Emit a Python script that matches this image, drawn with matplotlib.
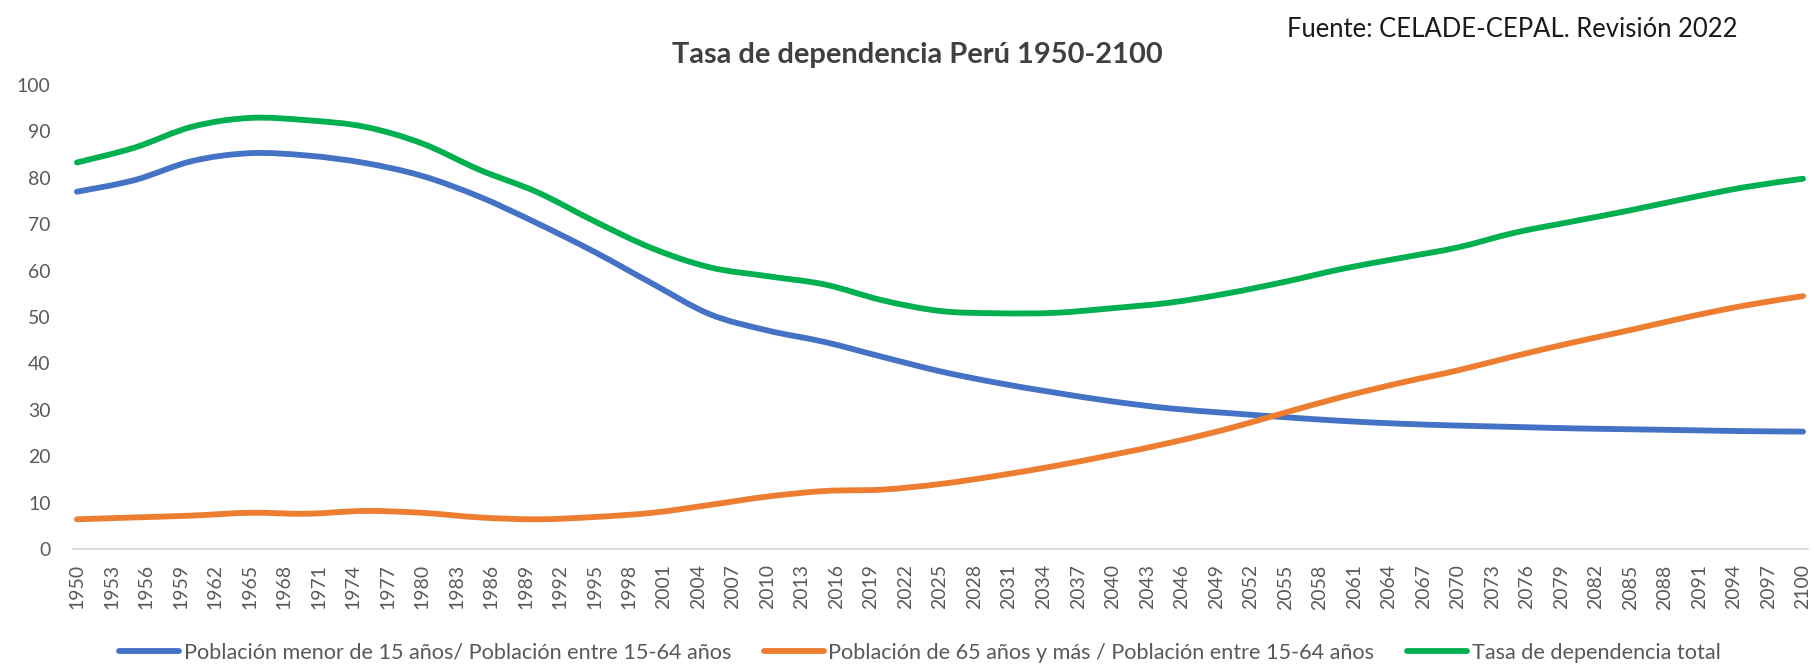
import matplotlib.pyplot as plt
from matplotlib.path import Path
from matplotlib.patches import PathPatch
from matplotlib.lines import Line2D

plt.rcParams['font.family'] = ['Lato', 'DejaVu Sans']

# Datos (quinquenales)
years = list(range(1950, 2101, 5))
menor15 = [77.0, 79.5, 83.6, 85.3, 84.8, 83.2, 80.4, 75.9, 70.2, 64.0,
           57.2, 50.6, 47.1, 44.6, 41.4, 38.3, 35.8, 33.7, 31.8, 30.3,
           29.3, 28.4, 27.6, 27.0, 26.6, 26.3, 26.0, 25.8, 25.6, 25.4, 25.3]
mayor65 = [6.4, 6.8, 7.2, 7.8, 7.6, 8.2, 7.8, 6.8, 6.4, 6.9,
           7.8, 9.5, 11.3, 12.5, 12.8, 14.0, 15.8, 17.9, 20.3, 22.9,
           25.9, 29.4, 32.8, 35.8, 38.5, 41.6, 44.5, 47.2, 50.0, 52.5, 54.5]
total = [83.3, 86.5, 91.0, 92.9, 92.4, 91.0, 87.4, 81.7, 76.9, 70.6,
         64.8, 60.7, 58.8, 57.0, 53.6, 51.3, 50.8, 50.9, 51.9, 53.1,
         55.1, 57.6, 60.4, 62.7, 65.0, 68.2, 70.6, 73.0, 75.6, 78.0, 79.8]

labels = ['Población menor de 15 años/ Población entre 15-64 años',
          'Población de 65 años y más / Población entre 15-64 años',
          'Tasa de dependencia total']
colors = ['#4472C4', '#ED7D31', '#00B050']
LW = 4.2


def smooth_path(x, y):
    # curva suavizada tipo Excel (Bezier Catmull-Rom)
    n = len(x)
    verts = [(x[0], y[0])]
    codes = [Path.MOVETO]
    for i in range(n - 1):
        a, b = max(i - 1, 0), min(i + 2, n - 1)
        c1 = (x[i] + (x[i + 1] - x[a]) / 6, y[i] + (y[i + 1] - y[a]) / 6)
        c2 = (x[i + 1] - (x[b] - x[i]) / 6, y[i + 1] - (y[b] - y[i]) / 6)
        verts += [c1, c2, (x[i + 1], y[i + 1])]
        codes += [Path.CURVE4] * 3
    return Path(verts, codes)


fig = plt.figure(figsize=(18.14, 6.64), dpi=100)
ax = fig.add_axes([0.0402, 0.1732, 0.9565, 0.6988])
fig.canvas.draw()
renderer = fig.canvas.get_renderer()


def fit_size(text, target_px, **kw):
    t = fig.text(0, 0, text, fontsize=10, **kw)
    w = t.get_window_extent(renderer).width
    t.remove()
    return 10 * target_px / w


tick_fs = fit_size('1950', 45)
title_fs = fit_size('Tasa de dependencia Perú 1950-2100', 492, fontweight='bold')
fuente_fs = fit_size('Fuente: CELADE-CEPAL. Revisión 2022', 449)

handles = []
for serie, lab, col in zip([menor15, mayor65, total], labels, colors):
    ax.add_patch(PathPatch(smooth_path(years, serie), fill=False, edgecolor=col,
                           lw=LW, capstyle='round', joinstyle='round'))
    handles.append(Line2D([], [], color=col, lw=LW, solid_capstyle='round', label=lab))

ax.set_xlim(1949.65, 2100.43)
ax.set_ylim(0, 100)
ax.set_xticks(range(1950, 2101, 3))
ax.set_xticklabels([str(y) for y in range(1950, 2101, 3)], rotation=90)
ax.set_yticks(range(0, 101, 10))
ax.tick_params(axis='both', length=0, labelsize=tick_fs, colors='#595959')
ax.tick_params(axis='x', pad=11)
ax.tick_params(axis='y', pad=16)

for s in ['top', 'right', 'left']:
    ax.spines[s].set_visible(False)
ax.spines['bottom'].set_color('#D9D9D9')
ax.spines['bottom'].set_linewidth(1.3)

fig.text(0.5055, 0.917, 'Tasa de dependencia Perú 1950-2100',
         ha='center', va='center', fontsize=title_fs, fontweight='bold', color='#404040')
fig.text(0.9576, 0.955, 'Fuente: CELADE-CEPAL. Revisión 2022',
         ha='right', va='center', fontsize=fuente_fs, color='#1a1a1a')

leg_kw = dict(loc='center', bbox_to_anchor=(0.507, 0.0166), ncol=3, frameon=False,
              handlelength=2.8, handletextpad=0.2, columnspacing=1.5, borderpad=0,
              labelcolor='#595959')
leg = fig.legend(handles=handles, fontsize=10, **leg_kw)
w = leg.get_window_extent(renderer).width
leg.remove()
fig.legend(handles=handles, fontsize=10 * 1606 / w, **leg_kw)

plt.savefig('out.png', dpi=100, facecolor='white')
